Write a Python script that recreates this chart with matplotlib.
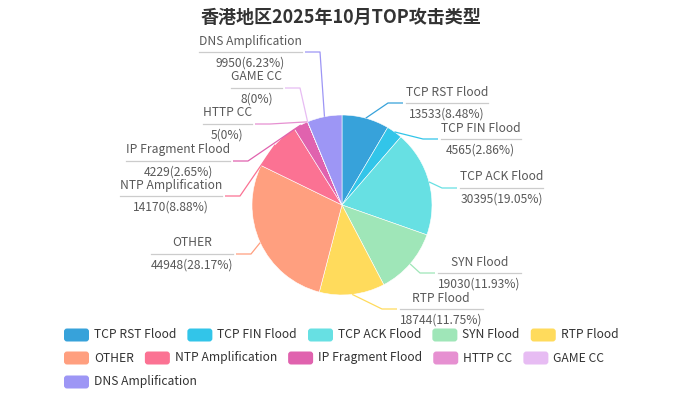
import matplotlib
matplotlib.use("Agg")
import matplotlib.pyplot as plt
from matplotlib.patches import FancyBboxPatch
import numpy as np

plt.rcParams['font.family'] = ['Noto Sans CJK SC', 'DejaVu Sans']

title = '香港地区2025年10月TOP攻击类型'
names = ['TCP RST Flood', 'TCP FIN Flood', 'TCP ACK Flood', 'SYN Flood', 'RTP Flood',
         'OTHER', 'NTP Amplification', 'IP Fragment Flood', 'HTTP CC', 'GAME CC',
         'DNS Amplification']
values = [13533, 4565, 30395, 19030, 18744, 44948, 14170, 4229, 5, 8, 9950]
colors = ['#37a2da', '#32c5e9', '#67e0e3', '#9fe6b8', '#ffdb5c', '#ff9f7f',
          '#fb7293', '#e062ae', '#e690d1', '#e7bcf3', '#9d96f5']

# label elbow points (pixels), after echarts' overlap shifting
elbows = [(388, 103), (423, 139), (442, 188), (420, 273), (382, 309),
          (251, 254), (240, 196), (248, 161), (270, 124), (300, 88), (320, 52)]
legend_rows = [5, 5, 1]

W, H = 681, 396
cx, cy, R = 342, 205, 90
fs = 8.7

fig = plt.figure(figsize=(W / 100, H / 100), dpi=100)
ax = fig.add_axes([0, 0, 1, 1])
wedges, _ = ax.pie(values, colors=colors, startangle=-90, counterclock=True,
                   center=(cx, cy), radius=R,
                   wedgeprops=dict(edgecolor='white', linewidth=0.4))
ax.set_xlim(0, W)
ax.set_ylim(H, 0)
ax.set_aspect('equal')
ax.axis('off')

fig.text(0.5, 1 - 17 / H, title, ha='center', va='center', fontsize=13,
         fontweight='bold', color='#333333')

# percentages with largest remainder rounding (2 decimals), as echarts does
total = sum(values)
raw = np.array(values, dtype=float) / total * 10000
seats = np.floor(raw)
rem = raw - seats
left = int(10000 - seats.sum())
for i in np.argsort(-rem)[:left]:
    seats[i] += 1

def pct_text(s):
    t = '%.2f' % (s / 100.0)
    return t.rstrip('0').rstrip('.') + '%'

renderer = fig.canvas.get_renderer()

for w, name, val, s, col, (ex, ey) in zip(wedges, names, values, seats, colors, elbows):
    ang = np.deg2rad((w.theta1 + w.theta2) / 2)
    px, py = cx + R * np.cos(ang), cy + R * np.sin(ang)
    sgn = 1 if ex > cx else -1
    lx = ex + sgn * 15
    ax.plot([px, ex, lx], [py, ey, ey], color=col, lw=0.9, solid_capstyle='butt')
    t1 = ax.text(0, ey - 11, name, ha='center', va='center', fontsize=fs, color='#595959')
    t2 = ax.text(0, ey + 11, '%d(%s)' % (val, pct_text(s)), ha='center', va='center',
                 fontsize=fs, color='#595959')
    tw = max(t1.get_window_extent(renderer).width, t2.get_window_extent(renderer).width)
    u0 = lx + sgn * 3
    u1 = u0 + sgn * tw
    t1.set_x((u0 + u1) / 2)
    t2.set_x((u0 + u1) / 2)
    ax.plot([u0, u1], [ey, ey], color='#cccccc', lw=0.9)

# legend, rows like echarts
row_y = [335, 358, 382]
k = 0
for r, n in enumerate(legend_rows):
    x = 64
    for i in range(k, k + n):
        ax.add_patch(FancyBboxPatch((x, row_y[r] - 6.5), 25, 13,
                                    boxstyle='round,pad=0,rounding_size=3',
                                    facecolor=colors[i], edgecolor='none'))
        t = ax.text(x + 30, row_y[r], names[i], ha='left', va='center',
                    fontsize=fs, color='#333333')
        x += 30 + t.get_window_extent(renderer).width + 11
    k += n

fig.savefig('out.png', dpi=100)
